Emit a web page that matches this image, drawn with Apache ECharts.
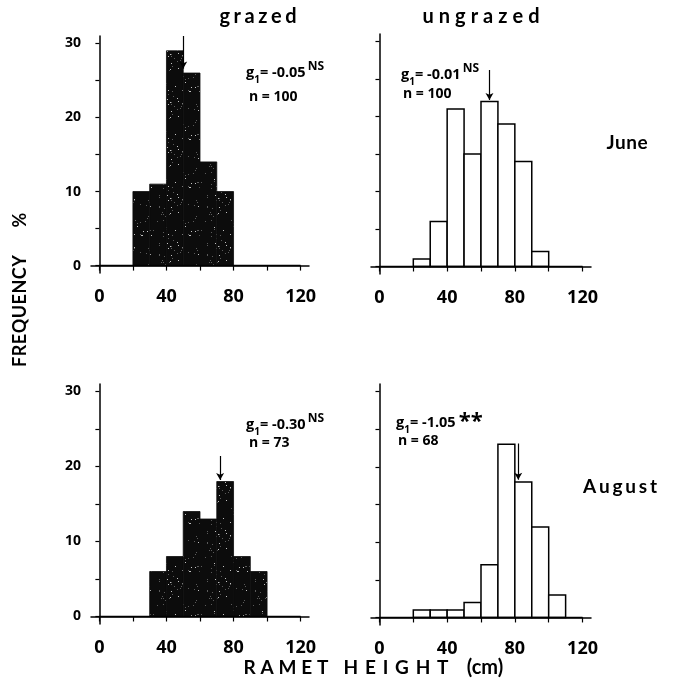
<!DOCTYPE html>
<html>
<head>
<meta charset="utf-8">
<script src="https://cdn.jsdelivr.net/npm/echarts@6/dist/echarts.min.js"></script>
<style>
  html, body { margin: 0; padding: 0; background: #fff; }
  #chart { width: 675px; height: 683px; }
</style>
</head>
<body>
<div id="chart"></div>
<script>
// axis ticks / labels
var xTicks = [0, 20, 40, 60, 80, 100, 120];
var xTickLabels = [0, 40, 80, 120];
var yTicks = [0, 5, 10, 15, 20, 25, 30];
var yTickLabels = [0, 10, 20, 30];
var binWidth = 10;

// ramet height histograms (% frequency, bins start at value)
var juneGrazedBins = [20, 30, 40, 50, 60, 70];
var juneGrazedFreq = [10, 11, 29, 26, 14, 10];
var juneUngrazedBins = [20, 30, 40, 50, 60, 70, 80, 90];
var juneUngrazedFreq = [1, 6, 21, 15, 22, 19, 14, 2];
var augGrazedBins = [30, 40, 50, 60, 70, 80, 90];
var augGrazedFreq = [6, 8, 14, 13, 18, 8, 6];
var augUngrazedBins = [20, 30, 40, 50, 60, 70, 80, 90, 100];
var augUngrazedFreq = [1, 1, 1, 2, 7, 23, 18, 12, 3];

// mean arrows and stats, order: june grazed, june ungrazed, aug grazed, aug ungrazed
var meanHeights = [50, 65, 72, 82];
var arrowFrom = [31, 26.2, 21.4, 23.1];
var arrowTo = [26.6, 22.2, 18.2, 18.3];
var skewG1 = ['-0.05', '-0.01', '-0.30', '-1.05'];
var skewSig = ['NS', 'NS', 'NS', '**'];
var sampleN = [100, 100, 73, 68];

var panels = [
    {bins: juneGrazedBins, freq: juneGrazedFreq, grazed: true},
    {bins: juneUngrazedBins, freq: juneUngrazedFreq, grazed: false},
    {bins: augGrazedBins, freq: augGrazedFreq, grazed: true},
    {bins: augUngrazedBins, freq: augUngrazedFreq, grazed: false}
];

var grids = [
    {left: 91, top: 36, width: 218, height: 237},
    {left: 371, top: 34, width: 220, height: 240},
    {left: 91, top: 384, width: 218, height: 240},
    {left: 371, top: 384, width: 220, height: 241}
];

// speckled dark fill for the grazed bars
var speckle = document.createElement('canvas');
speckle.width = 48; speckle.height = 48;
(function () {
    var c = speckle.getContext('2d');
    c.fillStyle = '#0c0c0c';
    c.fillRect(0, 0, 48, 48);
    var s = 7;
    for (var i = 0; i < 60; i++) {
        s = (s * 73 + 41) % 2311;
        var px = s % 48;
        s = (s * 73 + 41) % 2311;
        var py = s % 48;
        c.fillStyle = i % 3 ? 'rgba(170,170,170,0.5)' : 'rgba(255,255,255,0.75)';
        c.fillRect(px, py, 1, 1);
    }
})();

var FONT = 'Open Sans';
var TITLE_FONT = 'Lato';
var measureCtx = document.createElement('canvas').getContext('2d');

// letter-spaced label fitted to the width measured on the figure
function spacedText(str, cx, cy, size, width, rotation) {
    var font = 'bold ' + size + 'px "' + TITLE_FONT + '"';
    measureCtx.font = font;
    var chars = str.split('');
    var widths = chars.map(function (c) { return measureCtx.measureText(c).width; });
    var sum = widths.reduce(function (a, b) { return a + b; }, 0);
    var gap = chars.length > 1 ? Math.max(0.5, (width - sum) / (chars.length - 1)) : 0;
    var total = sum + gap * (chars.length - 1);
    var x = -total / 2;
    var children = [];
    chars.forEach(function (c, i) {
        children.push({
            type: 'text', x: x, y: 0,
            style: {text: c, font: font, fill: '#000', align: 'left', verticalAlign: 'middle'}
        });
        x += widths[i] + gap;
    });
    return {type: 'group', x: cx, y: cy, rotation: rotation || 0, silent: true, children: children};
}

function histItem(grazed) {
    return function (params, api) {
        var p0 = api.coord([api.value(0), api.value(2)]);
        var p1 = api.coord([api.value(1), 0]);
        return {
            type: 'rect',
            shape: {x: p0[0], y: p0[1], width: p1[0] - p0[0], height: p1[1] - p0[1]},
            style: grazed
                ? {fill: {image: speckle, repeat: 'repeat'}, stroke: '#0c0c0c', lineWidth: 0.8}
                : {fill: '#fff', stroke: '#000', lineWidth: 1.5}
        };
    };
}

var xAxes = [], yAxes = [], series = [];
panels.forEach(function (p, i) {
    xAxes.push({
        type: 'value', gridIndex: i, min: -5, max: 125,
        axisLine: {lineStyle: {color: '#000', width: 1.5}},
        axisTick: {customValues: xTicks, length: 5, lineStyle: {color: '#000', width: 1.2}},
        axisLabel: {customValues: xTickLabels, margin: 15, color: '#000', fontSize: 18,
            fontWeight: 'bold', fontFamily: FONT},
        splitLine: {show: false}
    });
    yAxes.push({
        type: 'value', gridIndex: i, min: -1, max: 31,
        axisLine: {show: true, lineStyle: {color: '#000', width: 1.5}},
        axisTick: {show: true, customValues: yTicks, length: 4, lineStyle: {color: '#000', width: 1.2}},
        axisLabel: {show: i % 2 === 0, customValues: yTickLabels, margin: 10, color: '#000',
            fontSize: 14, fontWeight: 'bold', fontFamily: FONT},
        splitLine: {show: false}
    });
    series.push({
        type: 'custom', xAxisIndex: i, yAxisIndex: i, z: 2,
        renderItem: histItem(p.grazed),
        encode: {x: [0, 1], y: 2},
        data: p.bins.map(function (b, k) { return [b, b + binWidth, p.freq[k]]; })
    });
    series.push({
        type: 'line', xAxisIndex: i, yAxisIndex: i, z: 3,
        data: [[0, 0], [120, 0]],
        symbol: 'none',
        lineStyle: {color: '#000', width: 1.5},
        markLine: {
            silent: true, symbol: ['none', 'arrow'], symbolSize: [6, 7],
            label: {show: false},
            lineStyle: {color: '#000', width: 1.2, type: 'solid'},
            data: [[{coord: [meanHeights[i], arrowFrom[i]]}, {coord: [meanHeights[i], arrowTo[i]]}]]
        }
    });
});

var statPos = [[246, 73, 249, 97], [401, 75, 403, 94], [246, 425, 249, 443], [396, 423, 398, 441]];
var statTexts = [];
statPos.forEach(function (sp, i) {
    var big = skewSig[i] === '**';
    statTexts.push({
        type: 'text', x: sp[0], y: sp[1], silent: true,
        style: {
            text: '{m|g}{s|1}{m|= ' + skewG1[i] + '}{' + (big ? 'b' : 'p') + '|' + skewSig[i] + '}',
            align: 'left', verticalAlign: 'middle',
            rich: {
                m: {fontSize: 14.5, fontWeight: 'bold', fontFamily: FONT, fill: '#000', lineHeight: 24},
                s: {fontSize: 10, fontWeight: 'bold', fontFamily: FONT, fill: '#000', verticalAlign: 'bottom'},
                p: {fontSize: 12, fontWeight: 'bold', fontFamily: FONT, fill: '#000', verticalAlign: 'top', padding: [0, 0, 0, 2]},
                b: {fontSize: 22, fontWeight: 'bold', fontFamily: FONT, fill: '#000', verticalAlign: 'top', padding: [0, 0, 0, 3]}
            }
        }
    });
    statTexts.push({
        type: 'text', x: sp[2], y: sp[3], silent: true,
        style: {text: 'n = ' + sampleN[i], align: 'left', verticalAlign: 'middle',
            font: 'bold 14px "' + FONT + '"', fill: '#000'}
    });
});

var labels = [
    spacedText('grazed', 258, 17, 20, 77),
    spacedText('ungrazed', 481, 17, 20, 117),
    spacedText('June', 627, 143, 19, 39),
    spacedText('August', 620, 487, 19, 74),
    spacedText('FREQUENCY', 20, 311, 18, 97, Math.PI / 2),
    spacedText('%', 20, 220, 18, 15, Math.PI / 2),
    spacedText('RAMET', 286, 668, 19, 85),
    spacedText('HEIGHT', 396, 668, 19, 105),
    {type: 'text', x: 485, y: 668, silent: true,
        style: {text: '(cm)', align: 'center', verticalAlign: 'middle', font: 'bold 20px "' + TITLE_FONT + '"', fill: '#000'}}
];

var chart = echarts.init(document.getElementById('chart'));
chart.setOption({
    animation: false,
    backgroundColor: '#fff',
    grid: grids,
    xAxis: xAxes,
    yAxis: yAxes,
    series: series,
    graphic: labels.concat(statTexts)
});
</script>
</body>
</html>
